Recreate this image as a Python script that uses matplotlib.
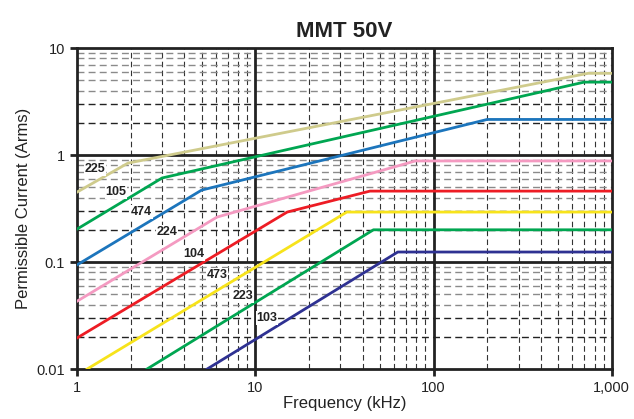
import matplotlib.pyplot as plt
from matplotlib.ticker import FixedLocator, NullFormatter

plt.rcParams['font.family'] = ['Liberation Sans', 'DejaVu Sans']

# ---- data: breakpoints of each curve (kHz, Arms) ----
names = ["225", "105", "474", "224", "104", "473", "223", "103"]
colors = ["#cfcb8c", "#00a651", "#1c75bc", "#f49ac1", "#ed1c24", "#f7e31b", "#00a651", "#2e3192"]

f_225 = [1, 1.93, 735, 1000]
i_225 = [0.45, 0.84, 5.8, 5.8]
f_105 = [1, 3.0, 700, 1000]
i_105 = [0.203, 0.61, 4.8, 4.8]
f_474 = [1, 5.0, 200, 1000]
i_474 = [0.094, 0.47, 2.15, 2.15]
f_224 = [1, 6.1, 79, 1000]
i_224 = [0.043, 0.263, 0.88, 0.88]
f_104 = [1, 15.1, 44, 1000]
i_104 = [0.0195, 0.293, 0.46, 0.46]
f_473 = [1.14, 32.6, 1000]
i_473 = [0.01, 0.293, 0.293]
f_223 = [2.47, 46, 1000]
i_223 = [0.01, 0.2, 0.2]
f_103 = [5.37, 63, 1000]
i_103 = [0.01, 0.124, 0.124]

freqs = [f_225, f_105, f_474, f_224, f_104, f_473, f_223, f_103]
currents = [i_225, i_105, i_474, i_224, i_104, i_473, i_223, i_103]

# label positions
label_x = [1.26, 1.65, 2.3, 3.2, 4.5, 6.1, 8.5, 11.6]
label_y = [0.74, 0.45, 0.293, 0.19, 0.119, 0.076, 0.048, 0.030]

fig = plt.figure(figsize=(6.34, 4.19), dpi=100)
ax = fig.add_axes([0.1215, 0.1193, 0.8435, 0.7661])
ax.set_xscale("log")
ax.set_yscale("log")
ax.set_xlim(1, 1000)
ax.set_ylim(0.01, 10)

# grid
for dec in [1, 10, 100]:
    for m in range(2, 10):
        ax.axvline(dec * m, color="#333333", lw=0.8, ls=(0, (5, 3)), zorder=1)
for dec in [0.01, 0.1, 1]:
    for m in range(2, 10):
        c = "#222222" if m <= 3 else "#8a8a8a"
        ax.axhline(dec * m, color=c, lw=1.0, ls=(0, (5, 3)), zorder=1)
for v in [10, 100]:
    ax.axvline(v, color="#222222", lw=2, zorder=2)
for v in [0.1, 1]:
    ax.axhline(v, color="#222222", lw=2, zorder=2)

for f, i, c in zip(freqs, currents, colors):
    ax.plot(f, i, color=c, lw=2, zorder=3)

for n, x, y in zip(names, label_x, label_y):
    ax.text(x, y, n, fontsize=9, fontweight="bold", ha="center", va="center",
            color="#222222", zorder=4,
            bbox=dict(facecolor="white", edgecolor="none", pad=0.5))

ax.xaxis.set_major_locator(FixedLocator([1, 10, 100, 1000]))
ax.yaxis.set_major_locator(FixedLocator([0.01, 0.1, 1, 10]))
ax.xaxis.set_minor_formatter(NullFormatter())
ax.yaxis.set_minor_formatter(NullFormatter())
ax.set_xticklabels(["1", "10", "100", "1,000"])
ax.set_yticklabels(["0.01", "0.1", "1", "10"])
ax.tick_params(which="major", length=5, width=2, color="#222222", labelsize=10.5,
               labelcolor="#222222")
ax.tick_params(which="minor", length=0)
for s in ax.spines.values():
    s.set_linewidth(2)
    s.set_color("#222222")

ax.set_xlabel("Frequency (kHz)", fontsize=12, color="#222222", labelpad=1)
ax.set_ylabel("Permissible Current (Arms)", fontsize=12, color="#222222", labelpad=4)
ax.set_title("MMT 50V", fontsize=16, fontweight="bold", color="#222222", pad=8)

fig.savefig("out.png", dpi=100)
